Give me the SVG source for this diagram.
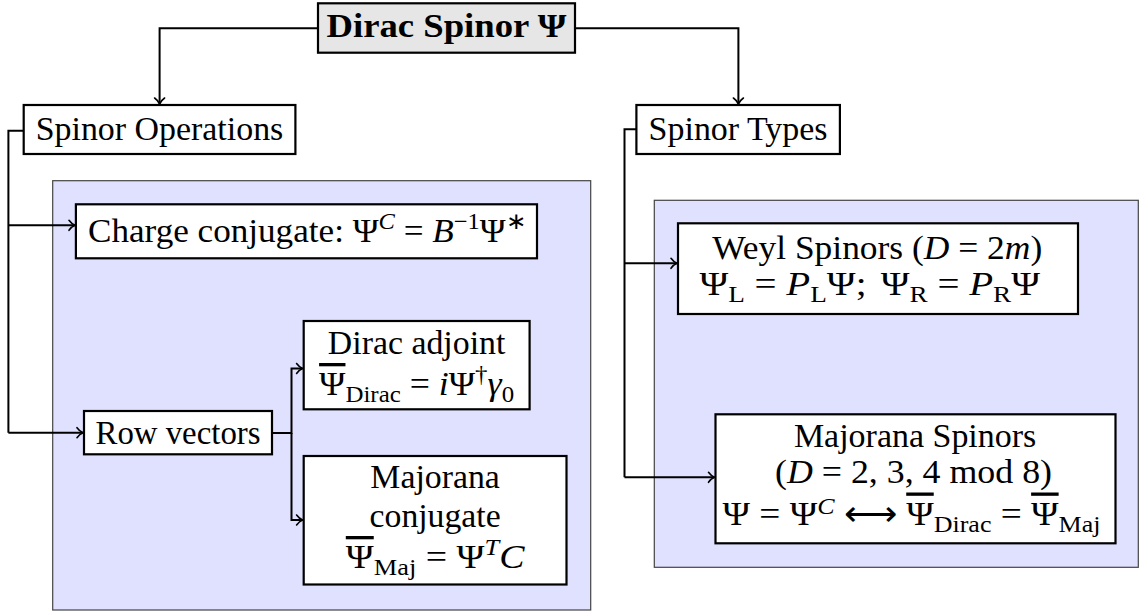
<svg xmlns="http://www.w3.org/2000/svg" width="1139" height="613" viewBox="0 0 1139 613">
<style>
.t{font-family:"Liberation Serif","Times New Roman",serif;font-size:33px;fill:#000;text-anchor:middle}
.b{font-weight:bold}
.i{font-style:italic}
.s{font-size:23px}
.ov{text-decoration:overline;text-decoration-thickness:1.5px}
.box{fill:#fff;stroke:#000;stroke-width:2.2}
.root{fill:#e6e6e6;stroke:#000;stroke-width:2.2}
.panel{fill:#e0e0ff;stroke:#444;stroke-width:1.2}
.c{fill:none;stroke:#000;stroke-width:2;marker-end:url(#arr)}
.cn{fill:none;stroke:#000;stroke-width:2}
</style>
<defs>
<marker id="arr" markerUnits="userSpaceOnUse" viewBox="-9 -7 11 14" markerWidth="11" markerHeight="14" refX="0" refY="0" orient="auto">
<path d="M-6,-5 C-4,-2.2 -1.5,-0.6 0,0 C-1.5,0.6 -4,2.2 -6,5" fill="none" stroke="#000" stroke-width="1.6" stroke-linecap="round"/>
</marker>
</defs>

<g id="panel-operations"><rect class="panel" x="52.7" y="180.7" width="538" height="429.3"/></g>
<g id="panel-types"><rect class="panel" x="654.3" y="200.3" width="484" height="367"/></g>

<g id="connectors">
<path class="c" d="M318,28.3 H159.6 V104"/>
<path class="c" d="M575,28.3 H738.4 V104"/>
<path class="cn" d="M23.7,130.7 H8.4 V432.7"/>
<path class="c" d="M8.4,225.3 H75"/>
<path class="c" d="M8.4,432.7 H83"/>
<path class="c" d="M272,433 H291.5 V368.5 H302.6"/>
<path class="c" d="M291.5,433 V520 H302.6"/>
<path class="cn" d="M636.4,129.3 H624.5 V477.3"/>
<path class="c" d="M624.5,263.3 H677"/>
<path class="c" d="M624.5,477.3 H714.5"/>
</g>

<g id="root">
<rect class="root" x="318" y="3.3" width="257" height="49.4"/>
<text class="t b" x="446.5" y="37" textLength="240" lengthAdjust="spacingAndGlyphs">Dirac Spinor Ψ</text>
</g>

<g id="spinor-operations">
<rect class="box" x="23.7" y="105" width="271.7" height="49"/>
<text class="t" x="159.5" y="139.5" textLength="247.6" lengthAdjust="spacingAndGlyphs">Spinor Operations</text>
</g>

<g id="spinor-types">
<rect class="box" x="636.4" y="105" width="203.5" height="49"/>
<text class="t" x="738.1" y="139.5" textLength="179" lengthAdjust="spacingAndGlyphs">Spinor Types</text>
</g>

<g id="charge-conjugate">
<rect class="box" x="75.9" y="204.3" width="461.1" height="54"/>
<text class="t" x="307" y="242" textLength="438" lengthAdjust="spacingAndGlyphs">Charge conjugate: Ψ<tspan class="s i" dy="-13">C</tspan><tspan dy="13"> = </tspan><tspan class="i">B</tspan><tspan class="s" dy="-13">−1</tspan><tspan dy="13">Ψ</tspan><tspan class="s" dy="-13">∗</tspan></text>
</g>

<g id="row-vectors">
<rect class="box" x="84" y="411" width="188" height="43.3"/>
<text class="t" x="178" y="443.5" textLength="165" lengthAdjust="spacingAndGlyphs">Row vectors</text>
</g>

<g id="dirac-adjoint">
<rect class="box" x="303.7" y="321" width="225.9" height="88.3"/>
<text class="t" x="416.6" y="354" textLength="177.6" lengthAdjust="spacingAndGlyphs">Dirac adjoint</text>
<text class="t" x="416.6" y="395" textLength="195" lengthAdjust="spacingAndGlyphs"><tspan class="ov">Ψ</tspan><tspan class="s" dy="7">Dirac</tspan><tspan dy="-7"> = </tspan><tspan class="i">i</tspan>Ψ<tspan class="s" dy="-13">†</tspan><tspan class="i" dy="13">γ</tspan><tspan class="s" dy="7">0</tspan></text>
</g>

<g id="majorana-conjugate">
<rect class="box" x="303.7" y="456" width="262.8" height="128.5"/>
<text class="t" x="435.1" y="488" textLength="129.5" lengthAdjust="spacingAndGlyphs">Majorana</text>
<text class="t" x="435.1" y="526.5" textLength="131" lengthAdjust="spacingAndGlyphs">conjugate</text>
<text class="t" x="435.1" y="568" textLength="178.6" lengthAdjust="spacingAndGlyphs"><tspan class="ov">Ψ</tspan><tspan class="s" dy="7">Maj</tspan><tspan dy="-7"> = Ψ</tspan><tspan class="s i" dy="-13">T</tspan><tspan class="i" dy="13">C</tspan></text>
</g>

<g id="weyl-spinors">
<rect class="box" x="678" y="223.3" width="400" height="90.7"/>
<text class="t" x="877.2" y="259" textLength="330" lengthAdjust="spacingAndGlyphs">Weyl Spinors (<tspan class="i">D</tspan> = 2<tspan class="i">m</tspan>)</text>
<text class="t" x="869.7" y="295" textLength="340.6" lengthAdjust="spacingAndGlyphs">Ψ<tspan class="s" dy="7">L</tspan><tspan dy="-7"> = </tspan><tspan class="i">P</tspan><tspan class="s" dy="7">L</tspan><tspan dy="-7">Ψ;</tspan><tspan dx="12">Ψ</tspan><tspan class="s" dy="7">R</tspan><tspan dy="-7"> = </tspan><tspan class="i">P</tspan><tspan class="s" dy="7">R</tspan><tspan dy="-7">Ψ</tspan></text>
</g>

<g id="majorana-spinors">
<rect class="box" x="715.5" y="414.3" width="400" height="129"/>
<text class="t" x="915.1" y="446.5" textLength="242.4" lengthAdjust="spacingAndGlyphs">Majorana Spinors</text>
<text class="t" x="913.5" y="482.5" textLength="277" lengthAdjust="spacingAndGlyphs">(<tspan class="i">D</tspan> = 2, 3, 4 mod 8)</text>
<text class="t" x="911.5" y="524.5" textLength="378" lengthAdjust="spacingAndGlyphs">Ψ = Ψ<tspan class="s i" dy="-11">C</tspan><tspan dy="11"> ⟷ </tspan><tspan class="ov">Ψ</tspan><tspan class="s" dy="7">Dirac</tspan><tspan dy="-7"> = </tspan><tspan class="ov">Ψ</tspan><tspan class="s" dy="7">Maj</tspan></text>
</g>
</svg>
